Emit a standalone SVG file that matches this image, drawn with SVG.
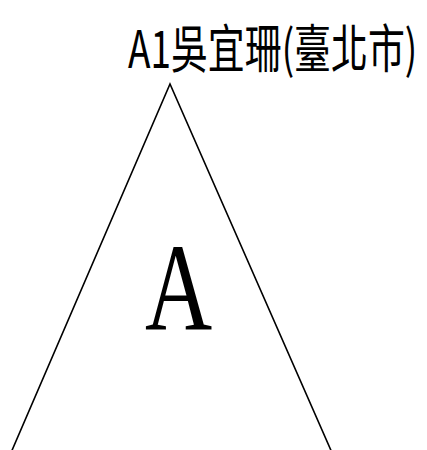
<svg xmlns="http://www.w3.org/2000/svg" width="427" height="450" viewBox="0 0 427 450">
<style>
.edge{fill:none;stroke:#000;stroke-width:1.6}
.title{font-family:"Noto Sans CJK TC","Liberation Serif",serif;font-size:52px;fill:#000}
.big{font-family:"Liberation Serif",serif;font-size:124px;fill:#000}
</style>
<rect width="427" height="450" fill="#fff"/>
<g id="connectors">
<polyline class="edge" points="10,455 170,84 333,455"/>
</g>
<g id="node-title">
<text class="title" transform="translate(128,68) scale(0.71,1)" x="0" y="0">A1吳宜珊(臺北市)</text>
</g>
<g id="node-A">
<text class="big" transform="translate(145,330) scale(0.75,1)" x="0" y="0">A</text>
</g>
</svg>
